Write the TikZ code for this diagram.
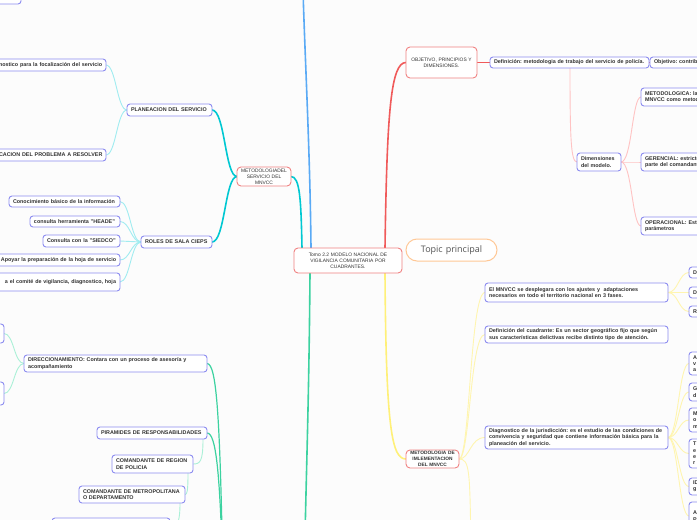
\documentclass[tikz,border=0pt]{standalone}
\usepackage{fontspec}
\setmainfont{Liberation Sans}
\newfontfamily\topicfont{Open Sans}
\usetikzlibrary{calc}
\pgfdeclarelayer{bg}
\pgfdeclarelayer{lines}
\pgfsetlayers{bg,lines,main}
\definecolor{bgc}{RGB}{252,252,252}
\definecolor{txt}{RGB}{51,51,51}
\definecolor{bluebox}{RGB}{140,140,240}
\definecolor{redbox}{RGB}{240,130,130}
\definecolor{orgbox}{RGB}{255,200,150}
\definecolor{blueln}{RGB}{90,170,245}
\definecolor{redln}{RGB}{240,90,90}
\definecolor{pinkln}{RGB}{255,195,195}
\definecolor{cyanln}{RGB}{0,200,210}
\definecolor{cyanlt}{RGB}{160,236,240}
\definecolor{yelln}{RGB}{255,240,120}
\definecolor{yellt}{RGB}{255,245,175}
\definecolor{grnln}{RGB}{60,210,160}
\definecolor{grnlt}{RGB}{170,240,215}
\frenchspacing
\newcommand\bfs{\fontsize{5.4}{6.3}\selectfont\bfseries}
\newcommand\bfsm{\fontsize{4.8}{5.8}\selectfont\bfseries}
\newcommand\rfs{\fontsize{4.9}{6}\selectfont}
\newcommand\mmnode[7]{%
  \pgfmathsetmacro\mmw{#5-#3-8}%
  \pgfmathsetmacro\mmh{#6-#4}%
  \node[#1, text width=\mmw pt, minimum height=\mmh pt, anchor=north west] (#2) at (#3,#4) {#7};}
\newcommand\lnk[5]{\draw[#1] (#2) .. controls ($(#2)+(#4,0)$) and ($(#3)-(#5,0)$) .. (#3);}
\begin{document}
\begin{tikzpicture}[x=1pt,y=-1pt,
  bx/.style={draw=bluebox, fill=white, rounded corners=3, line width=0.9, font=\bfs\frenchspacing, text=txt, inner xsep=4pt, inner ysep=1.5pt, outer sep=0pt, align=left},
  bxr/.style={bx, align=right},
  rbx/.style={bx, draw=redbox, rounded corners=4, font=\rfs\frenchspacing, align=center, inner ysep=0.5pt},
  rbxb/.style={rbx, font=\bfsm\frenchspacing},
  tbx/.style={bx, draw=orgbox, rounded corners=11, line width=1, font=\topicfont\fontsize{9}{11}\selectfont, align=center, text=txt!85},
  mainln/.style={line width=1.6, line cap=round},
  midln/.style={line width=1.2, line cap=round},
  subln/.style={line width=0.9, line cap=round}]
\useasboundingbox (0,0) rectangle (697,520);
\begin{pgfonlayer}{bg}
\fill[bgc] (0,0) rectangle (697,520);
\end{pgfonlayer}

% central and main nodes
\mmnode{rbx}{central}{294}{248}{402}{273}{Tomo 2.2 MODELO NACIONAL DE\\VIGILANCIA COMUNITARIA POR\\CUADRANTES.}
\mmnode{tbx}{topic}{406}{239}{497}{261}{Topic principal}
\mmnode{rbx}{objet}{406}{47}{477}{78}{OBJETIVO, PRINCIPIOS Y\\DIMENSIONES.}
\mmnode{bx}{defin}{490}{57}{649}{68}{\mbox{Definición: metodologia de trabajo del servicio de policía.}}
\mmnode{bx}{objtv}{650}{57}{770}{68}{Objetivo: contribuir}
\mmnode{bx}{dimen}{577}{153}{621}{171}{Dimensiones\\del modelo.}
\mmnode{bx}{dmet}{641}{88}{780}{106}{METODOLOGICA: la\\MNVCC como metodología}
\mmnode{bx}{dger}{641}{153}{780}{171}{GERENCIAL: estricto\\parte del comandante}
\mmnode{bx}{dope}{641}{217}{780}{235}{OPERACIONAL: Est\\parámetros}

% implementation branch
\mmnode{rbxb}{implem}{406}{450}{459}{468}{\mbox{METODOLOGIA DE}\\IMLEMENTACION\\DEL MNVCC}
\mmnode{bx}{mnvcc}{485}{283}{668}{302}{\mbox{El MNVCC se desplegara con los ajustes y~ adaptaciones}\\\mbox{necesarios en todo el territorio nacional en 3 fases.}}
\mmnode{bx}{cuadr}{485}{326}{668}{343}{\mbox{Definición del cuadrante: Es un sector geográfico fijo que según}\\\mbox{sus características delictivas recibe distinto tipo de atención.}}
\mmnode{bx}{diagn}{485}{426}{668}{449}{\mbox{Diagnostico de la jurisdicción: es el estudio de las condiciones de}\\\mbox{convivencia y seguridad que contiene información básica para la}\\planeación del servicio.}
\mmnode{bx}{ra1}{689}{267}{740}{278}{D}
\mmnode{bx}{ra2}{689}{287}{740}{298}{D}
\mmnode{bx}{ra3}{689}{306}{740}{317}{R}
\mmnode{bx}{da1}{689}{352}{740}{375}{A\\v\\a}
\mmnode{bx}{da2}{689}{383}{740}{401}{G\\d}
\mmnode{bx}{da3}{689}{408}{740}{432}{M\\o\\m}
\mmnode{bx}{da4}{689}{439}{740}{468}{T\\e\\e\\r}
\mmnode{bx}{da5}{689}{478}{740}{495}{ID\\g}
\mmnode{bx}{da6}{689}{502}{740}{530}{A\\P}

% left: methodology of service
\mmnode{bxr}{tl}{-40}{-8}{21}{4}{\mbox{ación}}
\mmnode{bxr}{pdiag}{-5}{59}{106}{71}{\mbox{nostico para la focalización del servicio}}
\mmnode{bxr}{pident}{-5}{149}{106}{161}{\mbox{CACION DEL PROBLEMA A RESOLVER}}
\mmnode{bx}{planea}{127}{104}{212}{116}{\mbox{PLANEACION DEL SERVICIO}}
\mmnode{rbx}{metserv}{237}{167}{291}{186}{METODOLOGIADEL\\SERVICIO DEL\\MNVCC}
\mmnode{bx}{roles}{141}{236}{212}{248}{\mbox{ROLES DE SALA CIEPS}}
\mmnode{bx}{ra}{9}{196}{120}{207}{\mbox{Conocimiento básico de la información}}
\mmnode{bx}{rb}{30}{216}{120}{227}{\mbox{consulta herramienta "HEADE"}}
\mmnode{bx}{rc}{43}{235}{120}{247}{\mbox{Consulta con la "SIEDCO"}}
\mmnode{bxr}{rd}{-3}{254}{120}{266}{\mbox{Apoyar la preparación de la hoja de servicio}}
\mmnode{bxr}{re}{-5}{273}{120}{291}{\mbox{a el comité de vigilancia, diagnostico, hoja}}

% left bottom: green branch
\mmnode{bx}{dA}{-40}{324}{4}{343}{}
\mmnode{bx}{dB}{-40}{382}{4}{405}{}
\mmnode{bx}{direc}{24}{355}{207}{372}{\mbox{DIRECCIONAMIENTO: Contara con un proceso de asesoría y}\\acompañamiento}
\mmnode{bx}{piram}{97}{427}{207}{439}{\mbox{PIRAMIDES DE RESPONSABILIDADES}}
\mmnode{bx}{creg}{112}{455}{193}{473}{\mbox{COMANDANTE DE REGION}\\DE POLICIA}
\mmnode{bx}{cmet}{79}{486}{185}{503}{\mbox{COMANDANTE DE METROPOLITANA}\\O DEPARTAMENTO}
\mmnode{bx}{cnx}{52}{518}{170}{540}{}

\begin{pgfonlayer}{lines}
\coordinate (topout) at (303,-10);
\coordinate (botout) at (305,540);
\coordinate (gout) at (223,580);
\coordinate (yout) at (471,560);
% main branches
\draw[mainln, blueln] ($(central.north west)+(17,0)$) .. controls (310,150) and (305,60) .. (topout);
\draw[mainln, redln] ($(central.north west)+(91,0)$) .. controls (387,110) and (391,62.5) .. (objet.west);
\draw[mainln, cyanln] ($(central.north west)+(8,0)$) .. controls (301,200) and (300,176.5) .. (metserv.east);
\draw[mainln, grnln] ($(central.south west)+(16,0)$) .. controls (309,400) and (306,480) .. (botout);
\draw[mainln, yelln] ($(central.south west)+(91,0)$) .. controls (386,430) and (392,459) .. (implem.west);
% objective branch
\draw[mainln, redln] (objet.east) -- (defin.west);
\draw[subln, redln] (defin.east) -- (objtv.west);
\draw[subln, pinkln] ($(defin.south west)+(80,0)$) .. controls (570,140) and (571,162) .. (dimen.west);
\lnk{subln,pinkln}{dimen.east}{dmet.west}{11}{9}
\lnk{subln,pinkln}{dimen.east}{dger.west}{11}{9}
\lnk{subln,pinkln}{dimen.east}{dope.west}{11}{9}
% implementation branch
\lnk{subln,yellt}{implem.east}{mnvcc.west}{11}{15}
\lnk{subln,yellt}{implem.east}{cuadr.west}{11}{15}
\lnk{subln,yellt}{implem.east}{diagn.west}{11}{15}
\draw[subln,yellt] (implem.east) .. controls (470,459) and (470,470) .. (yout);
\foreach \n in {ra1,ra2,ra3}{\lnk{subln,yellt}{mnvcc.east}{\n.west}{10}{10}}
\foreach \n in {da1,da2,da3,da4,da5,da6}{\lnk{subln,yellt}{diagn.east}{\n.west}{10}{10}}
% service methodology branch
\lnk{mainln,cyanln}{metserv.west}{planea.east}{-12}{-13}
\lnk{mainln,cyanln}{metserv.west}{roles.east}{-12}{-13}
\lnk{subln,cyanlt}{planea.west}{pdiag.east}{-10}{-10}
\lnk{subln,cyanlt}{planea.west}{pident.east}{-10}{-10}
\foreach \n in {ra,rb,rc,rd,re}{\lnk{subln,cyanlt}{roles.west}{\n.east}{-10}{-10}}
% green branch
\draw[midln, grnln] (direc.east) .. controls (217,363.5) and (220,420) .. (gout);
\draw[midln, grnln] (piram.east) .. controls (216,433) and (220,470) .. (gout);
\lnk{subln,grnlt}{direc.west}{dA.east}{-10}{-10}
\lnk{subln,grnlt}{direc.west}{dB.east}{-10}{-10}
\draw[subln, grnlt] ($(piram.south east)+(-4,0)$) .. controls (203,462) and (200,464) .. (creg.east);
\draw[subln, grnlt] ($(creg.south east)+(-5,0)$) .. controls (188,492) and (187,494.5) .. (cmet.east);
\draw[subln, grnlt] ($(cmet.south east)+(-5,0)$) .. controls (180,525) and (176,529) .. (cnx.east);
\end{pgfonlayer}
\end{tikzpicture}
\end{document}
